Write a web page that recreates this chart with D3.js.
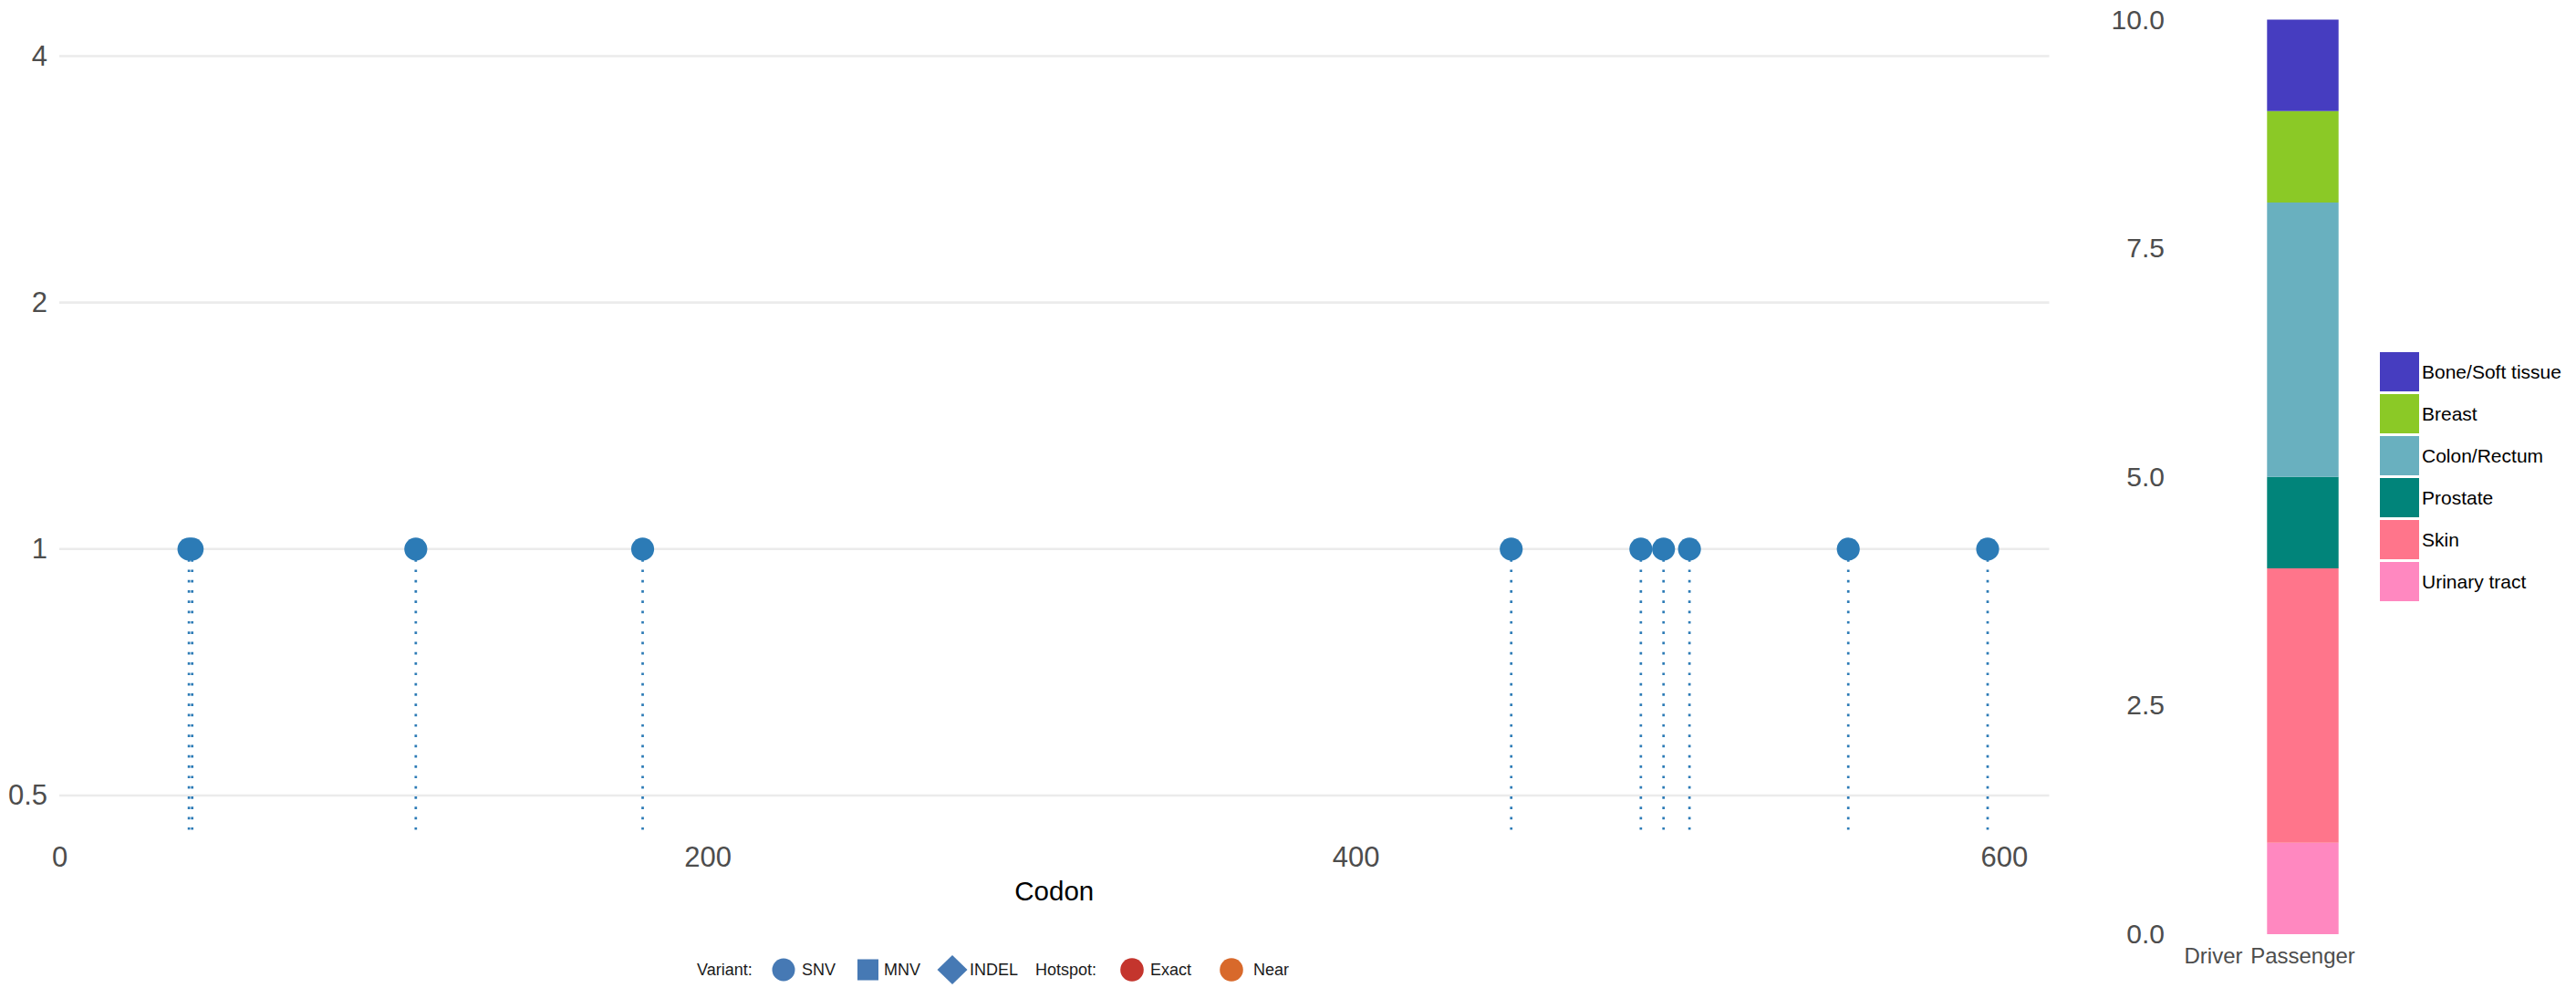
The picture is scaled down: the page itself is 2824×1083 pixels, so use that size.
<!DOCTYPE html>
<html>
<head>
<meta charset="utf-8">
<script src="https://cdn.jsdelivr.net/npm/d3@7"></script>
<style>
  html, body { margin: 0; padding: 0; background: #fff; }
  svg { display: block; font-family: "Liberation Sans", Arial, Helvetica, sans-serif; }
</style>
</head>
<body>
<svg id="chart" width="2824" height="1083"></svg>
<script>
// ---------- data ----------
const codons = [40, 41, 110, 180, 448, 488, 495, 503, 552, 595];
const mutationCounts = [1, 1, 1, 1, 1, 1, 1, 1, 1, 1];
const yTickValues = [0.5, 1, 2, 4];
const xTickValues = [0, 200, 400, 600];
const proteinLength = 614;

const mutationClasses = ["Driver", "Passenger"];
const tissues = ["Bone/Soft tissue", "Breast", "Colon/Rectum", "Prostate", "Skin", "Urinary tract"];
const driverCounts = [0, 0, 0, 0, 0, 0];
const passengerCounts = [1, 1, 3, 1, 3, 1];
const tissueColors = ["#463dc0", "#8bc926", "#69b0bf", "#01847a", "#ff758b", "#ff88c0"];
const barTickValues = [0, 2.5, 5, 7.5, 10];

const variantTypes = ["SNV", "MNV", "INDEL"];
const variantShapes = ["circle", "square", "diamond"];
const hotspotTypes = ["Exact", "Near"];
const hotspotColors = ["#c4352d", "#d8692b"];

// ---------- setup ----------
const svg = d3.select("#chart");
const tickColor = "#4d4d4d";

// ---------- lollipop panel ----------
const x = d3.scaleLinear().domain([0, proteinLength]).range([65, 2246.5]);
const y = d3.scaleLog().base(2).domain([0.45, 4.5]).range([913, 15.6]);

// gridlines
svg.append("g")
  .selectAll("line")
  .data(yTickValues)
  .join("line")
  .attr("x1", x(0)).attr("x2", x(proteinLength))
  .attr("y1", d => y(d)).attr("y2", d => y(d))
  .attr("stroke", "#ebebeb").attr("stroke-width", 2.6);

// y axis
const gy = svg.append("g")
  .attr("transform", `translate(${x(0)},0)`)
  .call(d3.axisLeft(y).tickValues(yTickValues).tickFormat(d3.format("")).tickSize(0).tickPadding(13));
gy.select(".domain").remove();
gy.selectAll("text").attr("fill", tickColor).style("font-size", "31px").style("font-family", '"Liberation Sans", Arial, sans-serif');

// x axis
const gx = svg.append("g")
  .attr("transform", `translate(0,913)`)
  .call(d3.axisBottom(x).tickValues(xTickValues).tickFormat(d3.format("")).tickSize(0).tickPadding(15));
gx.select(".domain").remove();
gx.selectAll("text").attr("fill", tickColor).style("font-size", "31px").style("font-family", '"Liberation Sans", Arial, sans-serif');

svg.append("text")
  .attr("x", (x(0) + x(proteinLength)) / 2)
  .attr("y", 987)
  .attr("text-anchor", "middle")
  .attr("fill", "#000")
  .style("font-size", "29.5px")
  .text("Codon");

const muts = codons.map((c, i) => ({ codon: c, count: mutationCounts[i] }));

// stems
svg.append("g")
  .selectAll("line")
  .data(muts)
  .join("line")
  .attr("x1", d => x(d.codon)).attr("x2", d => x(d.codon))
  .attr("y1", d => y(d.count)).attr("y2", y(0.45))
  .attr("stroke", "#2c7bb6")
  .attr("stroke-width", 2.7)
  .attr("stroke-dasharray", "2.7,8.6");

// heads
svg.append("g")
  .selectAll("circle")
  .data(muts)
  .join("circle")
  .attr("cx", d => x(d.codon))
  .attr("cy", d => y(d.count))
  .attr("r", 12.6)
  .attr("fill", "#2c7bb6");

// ---------- bottom legend ----------
const lg = svg.append("g").style("font-size", "18px").attr("fill", "#1a1a1a");
const legY = 1063;
lg.append("text").attr("x", 764).attr("y", legY).attr("dy", "0.35em").text("Variant:");
const variantMarkerX = [859, 951.5, 1044];
const variantTextX = [879, 969, 1063];
variantTypes.forEach((v, i) => {
  const cx = variantMarkerX[i];
  const shape = variantShapes[i];
  if (shape === "circle") {
    lg.append("circle").attr("cx", cx).attr("cy", legY).attr("r", 12.5).attr("fill", "#4679b4");
  } else if (shape === "square") {
    lg.append("rect").attr("x", cx - 11.5).attr("y", legY - 11.5).attr("width", 23).attr("height", 23).attr("fill", "#4679b4");
  } else {
    lg.append("path")
      .attr("d", `M${cx},${legY - 16}L${cx + 16.5},${legY}L${cx},${legY + 16}L${cx - 16.5},${legY}Z`)
      .attr("fill", "#4679b4");
  }
  lg.append("text").attr("x", variantTextX[i]).attr("y", legY).attr("dy", "0.35em").text(v);
});
lg.append("text").attr("x", 1135).attr("y", legY).attr("dy", "0.35em").text("Hotspot:");
const hotspotMarkerX = [1241, 1350];
const hotspotTextX = [1261, 1374];
hotspotTypes.forEach((h, i) => {
  lg.append("circle").attr("cx", hotspotMarkerX[i]).attr("cy", legY).attr("r", 12.8).attr("fill", hotspotColors[i]);
  lg.append("text").attr("x", hotspotTextX[i]).attr("y", legY).attr("dy", "0.35em").text(h);
});

// ---------- stacked bar panel ----------
const xb = d3.scaleBand().domain(mutationClasses).range([2377.5, 2573.5]).paddingInner(0.2).paddingOuter(0.1);
const yb = d3.scaleLinear().domain([0, 10]).range([1024, 21.5]);

const rows = mutationClasses.map((m, i) => {
  const row = { cls: m };
  const vals = i === 0 ? driverCounts : passengerCounts;
  tissues.forEach((t, j) => row[t] = vals[j]);
  return row;
});
const stackKeys = tissues.slice().reverse(); // bottom: Urinary tract, top: Bone/Soft tissue
const series = d3.stack().keys(stackKeys)(rows);
const colorOf = d3.scaleOrdinal().domain(tissues).range(tissueColors);

svg.append("g")
  .selectAll("g")
  .data(series)
  .join("g")
  .attr("fill", s => colorOf(s.key))
  .selectAll("rect")
  .data(s => s.map(d => Object.assign(d, { key: s.key })))
  .join("rect")
  .attr("x", d => xb(d.data.cls))
  .attr("width", xb.bandwidth())
  .attr("y", d => yb(d[1]))
  .attr("height", d => yb(d[0]) - yb(d[1]))
  .attr("stroke", d => (yb(d[0]) - yb(d[1])) === 0 ? colorOf(d.key) : "none")
  .attr("stroke-width", 1.2);

const gyb = svg.append("g")
  .attr("transform", `translate(2383,0)`)
  .call(d3.axisLeft(yb).tickValues(barTickValues).tickFormat(d3.format(".1f")).tickSize(0).tickPadding(10));
gyb.select(".domain").remove();
gyb.selectAll("text").attr("fill", tickColor).style("font-size", "30px").style("font-family", '"Liberation Sans", Arial, sans-serif');

const gxb = svg.append("g")
  .attr("transform", `translate(0,1024)`)
  .call(d3.axisBottom(xb).tickSize(0).tickPadding(14.5));
gxb.select(".domain").remove();
gxb.selectAll("text").attr("fill", tickColor).style("font-size", "24px").style("font-family", '"Liberation Sans", Arial, sans-serif');

// tissue legend
const tl = svg.append("g");
tissues.forEach((t, i) => {
  const top = 386 + 46 * i;
  tl.append("rect").attr("x", 2609).attr("y", top).attr("width", 43).attr("height", 43).attr("fill", colorOf(t));
  tl.append("text").attr("x", 2655).attr("y", top + 21.5).attr("dy", "0.35em")
    .attr("fill", "#000").style("font-size", "21px").text(t);
});
</script>
</body>
</html>
